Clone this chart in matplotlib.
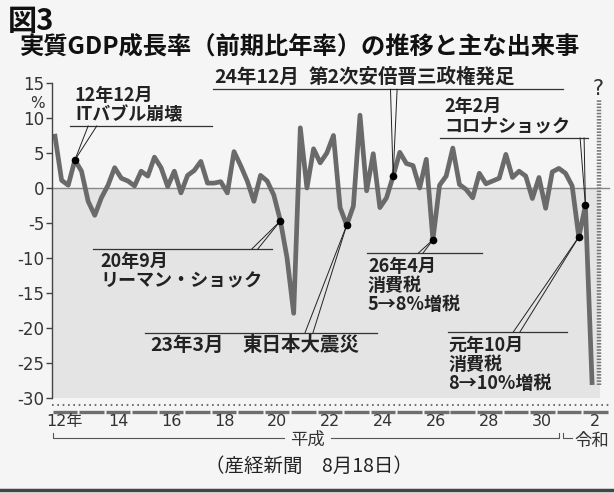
#!/usr/bin/env python3
"""
図3 実質GDP成長率（前期比年率）の推移と主な出来事
- 四半期データ 2000年1-3月期 〜 2020年4-6月期
- out.png に保存
"""

import matplotlib
matplotlib.use("Agg")
import matplotlib.pyplot as plt
from matplotlib.lines import Line2D

plt.rcParams["font.family"] = ["Noto Sans CJK JP", "DejaVu Sans"]

# 実質GDP成長率（前期比年率, %）
growth = [
    7.4, 1.1, 0.4, 4.0,       # 2000
    2.4, -1.9, -3.9, -1.4,    # 2001
    0.4, 2.9, 1.4, 1.0,       # 2002
    0.3, 2.4, 1.7, 4.4,       # 2003
    2.9, 0.2, 2.4, -0.7,      # 2004
    1.8, 2.5, 3.8, 0.7,       # 2005
    0.7, 0.9, -0.7, 5.2,      # 2006
    3.2, 1.0, -1.9, 1.8,      # 2007
    1.0, -1.0, -4.7, -10.0,   # 2008
    -17.9, 8.6, 0.0, 5.6,     # 2009
    3.6, 5.0, 7.5, -2.8,      # 2010
    -5.3, -2.6, 10.4, -0.4,   # 2011
    4.9, -2.8, -1.4, 1.7,     # 2012
    5.1, 3.5, 3.2, 0.0,       # 2013
    4.1, -7.4, 0.4, 1.7,      # 2014
    5.7, 0.5, -0.2, -1.4,     # 2015
    2.1, 0.6, 1.0, 1.4,       # 2016
    4.8, 1.5, 2.4, 1.7,       # 2017
    -1.5, 1.5, -2.9, 2.3,     # 2018
    2.8, 2.1, 0.3, -7.0,      # 2019
    -2.5, -27.8,              # 2020
]
quarters = list(range(len(growth)))

# 出来事の四半期（2000年1-3月期 = 0）
event_q = [3, 34, 44, 51, 57, 79, 80]

years = list(range(2000, 2021))
year_labels = ["12年", "14", "16", "18", "20", "22", "24", "26", "28", "30", "2"]
yticks = [15, 10, 5, 0, -5, -10, -15, -20, -25, -30]

LINE = "#6a6a6a"
INK = "#222222"
NUM_FONT = ["DejaVu Sans", "Noto Sans CJK JP"]

fig = plt.figure(figsize=(6.14, 4.93), dpi=100, facecolor="#f5f5f5")
ax = fig.add_axes([52 / 614, 1 - 398 / 493, 562 / 614, 315 / 493])
ax.set_facecolor("none")
ax.set_xlim(-0.45, 84.31)
ax.set_ylim(-30, 15)

for s in ("top", "right", "bottom"):
    ax.spines[s].set_visible(False)
ax.spines["left"].set_color("#444")
ax.spines["left"].set_linewidth(1.0)
ax.set_xticks([])
ax.set_yticks(yticks)
ax.set_yticklabels([str(v) for v in yticks], family=NUM_FONT, fontsize=12, color="#333")
ax.tick_params(axis="y", direction="out", length=4, width=1, color="#444", pad=1.5)
ax.text(-1.5, 12.0, "%", ha="right", va="center", family=NUM_FONT, fontsize=11, color="#333")

# マイナス領域の網掛け
ax.fill_between([-0.45, 82.2], -30, 0, color="#e4e4e4", lw=0, zorder=0)
ax.plot([-0.45, 83.5], [0, 0], color="#888", lw=1.0, zorder=1)

# 成長率の折れ線
ax.plot(quarters, growth, color=LINE, lw=3.4, zorder=2)
ax.plot(event_q, [growth[q] for q in event_q], "o", color="black", ms=4.5, zorder=5)

# 今後（？）
ax.plot([82, 82], [-28.1, 12.6], color="#777", lw=3.2, ls=(0, (0.35, 0.35)), zorder=2)
ax.text(81.9, 14.2, "?", ha="center", va="center", family=NUM_FONT, fontsize=15, color="#333")


def underline(x1, x2, y):
    ax.plot([x1, x2], [y, y], color="#333", lw=0.9, zorder=3, clip_on=False)


def leader(q, feet, y):
    for fx in feet:
        ax.plot([q, fx], [growth[q], y], color=INK, lw=0.7, zorder=3, clip_on=False)


note = dict(color=INK, fontweight="bold", linespacing=1.0, zorder=6)

# 12年12月 ITバブル崩壊
underline(2.26, 23.7, 8.86)
leader(3, [5.0, 6.3], 8.86)
ax.text(3.0, 9.1, "12年12月\nITバブル崩壊", ha="left", va="bottom", fontsize=13, **note)

# 24年12月 第2次安倍晋三政権発足
underline(23.8, 76.6, 14.1)
leader(51, [50.6, 51.6], 14.1)
ax.text(24.1, 14.5, "24年12月", ha="left", va="bottom", fontsize=14, **note)
ax.text(38.2, 14.5, "第2次安倍晋三政権発足", ha="left", va="bottom", fontsize=14, **note)

# 2年2月 コロナショック
underline(58.1, 80.4, 7.14)
leader(80, [79.2, 79.8], 7.14)
ax.text(58.8, 7.5, "2年2月\nコロナショック", ha="left", va="bottom", fontsize=13, **note)

# 20年9月 リーマン・ショック
underline(5.7, 32.7, -8.7)
leader(34, [29.7, 30.6], -8.7)
ax.text(6.8, -9.2, "20年9月\nリーマン・ショック", ha="left", va="top", fontsize=13, **note)

# 23年3月 東日本大震災
underline(13.6, 48.6, -20.7)
leader(44, [37.7, 38.9], -20.7)
ax.text(14.3, -21.1, "23年3月", ha="left", va="top", fontsize=14, **note)
ax.text(28.2, -21.1, "東日本大震災", ha="left", va="top", fontsize=14, **note)

# 26年4月 消費税 5→8%増税
underline(47.1, 64.4, -9.3)
leader(57, [54.8, 55.5], -9.3)
ax.text(47.2, -9.8, "26年4月\n消費税\n5→8%増税", ha="left", va="top", fontsize=13, **note)

# 元年10月 消費税 8→10%増税
underline(59.3, 77.2, -20.6)
leader(79, [69.1, 70.1], -20.6)
ax.text(59.3, -21.1, "元年10月\n消費税\n8→10%増税", ha="left", va="top", fontsize=13, **note)

# 横軸：点線・年の区切り・年ラベル
ax.plot([-0.45, 84.0], [-31.0, -31.0], color="#555", lw=1.2, ls=(0, (1, 2.2)), clip_on=False)
for k, yr in enumerate(years):
    q0 = 4 * k
    ax.plot([q0 - 0.35, q0 + 3.35], [-32.0, -32.0], color="#6e6e6e", lw=2.4,
            solid_capstyle="butt", clip_on=False)
for k, lab in enumerate(year_labels):
    ax.text(8 * k + 1.5, -33.4, lab, ha="center", va="center", family=NUM_FONT,
            fontsize=11.5, color="#333", clip_on=False)

# 元号の括弧
br = dict(color="#555", lw=0.8, clip_on=False)
ax.plot([-0.3, -0.3, 34.6], [-35.0, -35.7, -35.7], **br)
ax.plot([41.7, 76.0, 76.0], [-35.7, -35.7, -35.0], **br)
ax.plot([76.6, 76.6, 78.0], [-35.0, -35.7, -35.7], **br)
ax.text(38.15, -35.9, "平成", ha="center", va="center", fontsize=12.5, color="#333")
ax.text(78.3, -36.2, "令和", ha="left", va="center", fontsize=12.5, color="#333")

# タイトル・出典
fig.text(8 / 614, 1 - 21 / 493, "図3", ha="left", va="center", fontsize=21,
         fontweight="bold", color="#111")
fig.text(20 / 614, 1 - 48 / 493, "実質GDP成長率（前期比年率）の推移と主な出来事",
         ha="left", va="center", fontsize=17.5, fontweight="bold", color="#111")
fig.text(309 / 614, 1 - 466 / 493, "（産経新聞　8月18日）", ha="center", va="center",
         fontsize=14, color="#222")
fig.add_artist(Line2D([0, 1], [1 - 490 / 493] * 2, transform=fig.transFigure,
                      color="#444", lw=2.5))

fig.savefig("out.png", dpi=100, facecolor=fig.get_facecolor())
